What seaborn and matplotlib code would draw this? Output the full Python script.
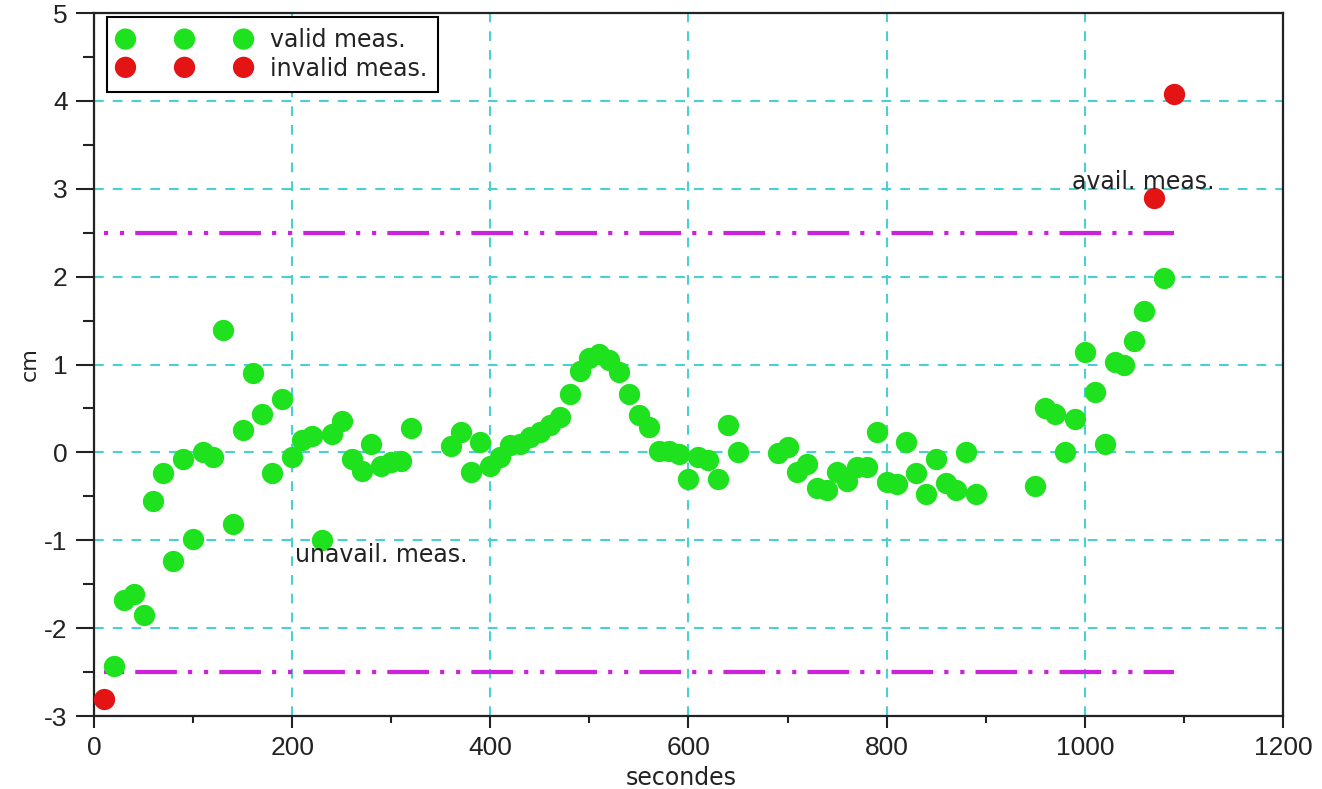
import matplotlib
matplotlib.use("Agg")
import matplotlib.pyplot as plt
from matplotlib.ticker import MultipleLocator
import pandas as pd
import seaborn as sns

# Measurement times (s) and deviations (cm)
valid_t = [20, 30, 40, 50, 60, 70, 80, 90, 100, 110, 120, 130, 140, 150, 160,
           170, 180, 190, 200, 210, 220, 230, 240, 250, 260, 270, 280, 290, 300,
           310, 320, 360, 370, 380, 390, 400, 410, 420, 430, 440, 450, 460, 470,
           480, 490, 500, 510, 520, 530, 540, 550, 560, 570, 580, 590, 600, 610,
           620, 630, 640, 650, 690, 700, 710, 720, 730, 740, 750, 760, 770, 780,
           790, 800, 810, 820, 830, 840, 850, 860, 870, 880, 890, 950, 960, 970,
           980, 990, 1000, 1010, 1020, 1030, 1040, 1050, 1060, 1080]
valid_cm = [-2.43, -1.68, -1.61, -1.85, -0.55, -0.24, -1.24, -0.08, -0.99, 0.00,
            -0.05, 1.39, -0.82, 0.25, 0.90, 0.44, -0.24, 0.61, -0.05, 0.14, 0.19,
            -1.00, 0.21, 0.36, -0.08, -0.21, 0.09, -0.16, -0.11, -0.10, 0.28,
            0.07, 0.23, -0.22, 0.12, -0.15, -0.05, 0.08, 0.10, 0.17, 0.23, 0.31,
            0.40, 0.66, 0.93, 1.07, 1.12, 1.05, 0.91, 0.67, 0.42, 0.29, 0.02,
            0.02, -0.02, -0.30, -0.05, -0.09, -0.30, 0.31, 0.00, -0.01, 0.06,
            -0.22, -0.13, -0.40, -0.43, -0.22, -0.32, -0.17, -0.17, 0.23, -0.34,
            -0.36, 0.12, -0.24, -0.47, -0.07, -0.35, -0.43, 0.00, -0.47, -0.38,
            0.50, 0.44, 0.00, 0.38, 1.14, 0.69, 0.10, 1.03, 0.99, 1.27, 1.61, 1.98]
invalid_t = [10, 1070, 1090]
invalid_cm = [-2.81, 2.90, 4.08]

# Tolerance band limits and the time span they cover
tolerance = 2.5
band_t = [10, 1090]

x_ticks = [0, 200, 400, 600, 800, 1000, 1200]
y_ticks = [-3, -2, -1, 0, 1, 2, 3, 4, 5]

GREEN = "#1fe21f"
RED = "#e41414"
MAGENTA = "#cc22dd"
GRID = "#48d0d6"
INK = "#222222"

sns.set_theme(style="white")
plt.rcParams["font.family"] = ["DejaVu Sans"]
plt.rcParams["lines.scale_dashes"] = False
plt.rcParams["axes.unicode_minus"] = False

fig = plt.figure(figsize=(13.22, 7.89), dpi=100)
ax = fig.add_axes([0.0711, 0.0925, 0.8994, 0.891])

valid_df = pd.DataFrame({"t": valid_t, "cm": valid_cm})
invalid_df = pd.DataFrame({"t": invalid_t, "cm": invalid_cm})

sns.scatterplot(data=valid_df, x="t", y="cm", color=GREEN, s=235,
                linewidth=0, ax=ax, label="valid meas.", zorder=3)
sns.scatterplot(data=invalid_df, x="t", y="cm", color=RED, s=235,
                linewidth=0, ax=ax, label="invalid meas.", zorder=3)

# dot, dot, long dash pattern (points)
dash_dot_dot = (38, (30, 8, 3, 8.5, 3, 8))
for lim in (tolerance, -tolerance):
    sns.lineplot(x=band_t, y=[lim, lim], color=MAGENTA, linewidth=3,
                 linestyle=dash_dot_dot, legend=False, ax=ax, zorder=2)

ax.text(987, 3.08, "avail. meas.", fontsize=17, color=INK,
        ha="left", va="center", zorder=4)
ax.text(203, -1.17, "unavail. meas.", fontsize=17, color=INK,
        ha="left", va="center", zorder=4)

ax.set_xlim(x_ticks[0], x_ticks[-1])
ax.set_ylim(y_ticks[0], y_ticks[-1])
ax.set_xticks(x_ticks)
ax.set_yticks(y_ticks)
ax.xaxis.set_minor_locator(MultipleLocator(100))
ax.yaxis.set_minor_locator(MultipleLocator(0.5))

ax.set_axisbelow(True)
ax.grid(True, which="major", color=GRID, linewidth=1.5,
        linestyle=(0, (7, 6.5)))

for side in ("left", "right", "top", "bottom"):
    ax.spines[side].set_visible(True)
    ax.spines[side].set_color(INK)
    ax.spines[side].set_linewidth(1.6)

ax.tick_params(axis="both", which="both", direction="out", color=INK,
               width=1.5, bottom=True, left=True, top=False, right=False,
               labelcolor=INK, labelsize=19)
ax.tick_params(axis="y", which="major", length=13, pad=6)
ax.tick_params(axis="y", which="minor", length=8)
ax.tick_params(axis="x", which="major", length=8.5, pad=6)
ax.tick_params(axis="x", which="minor", length=5)
for lbl in ax.get_xticklabels() + ax.get_yticklabels():
    lbl.set_fontfamily("Liberation Sans")

ax.set_xlabel("secondes", fontsize=17, color=INK, va="top")
ax.set_ylabel("cm", fontsize=16, color=INK)
ax.xaxis.set_label_coords(0.494, -0.071)
ax.yaxis.set_label_coords(-0.0454, 0.5)

handles = ax.collections[:2]
leg = ax.legend(handles=handles, labels=["valid meas.", "invalid meas."],
                scatterpoints=3, scatteryoffsets=[0.5], loc="upper left",
                bbox_to_anchor=(0.011, 0.9943), borderaxespad=0,
                handlelength=5.6, handletextpad=0.8, fontsize=17,
                labelspacing=0.18, borderpad=0.48, frameon=True,
                fancybox=False, framealpha=1, edgecolor="black",
                labelcolor=INK)
leg.get_frame().set_linewidth(1.5)
leg.set_zorder(5)

fig.savefig("out.png", dpi=100, facecolor="white")
